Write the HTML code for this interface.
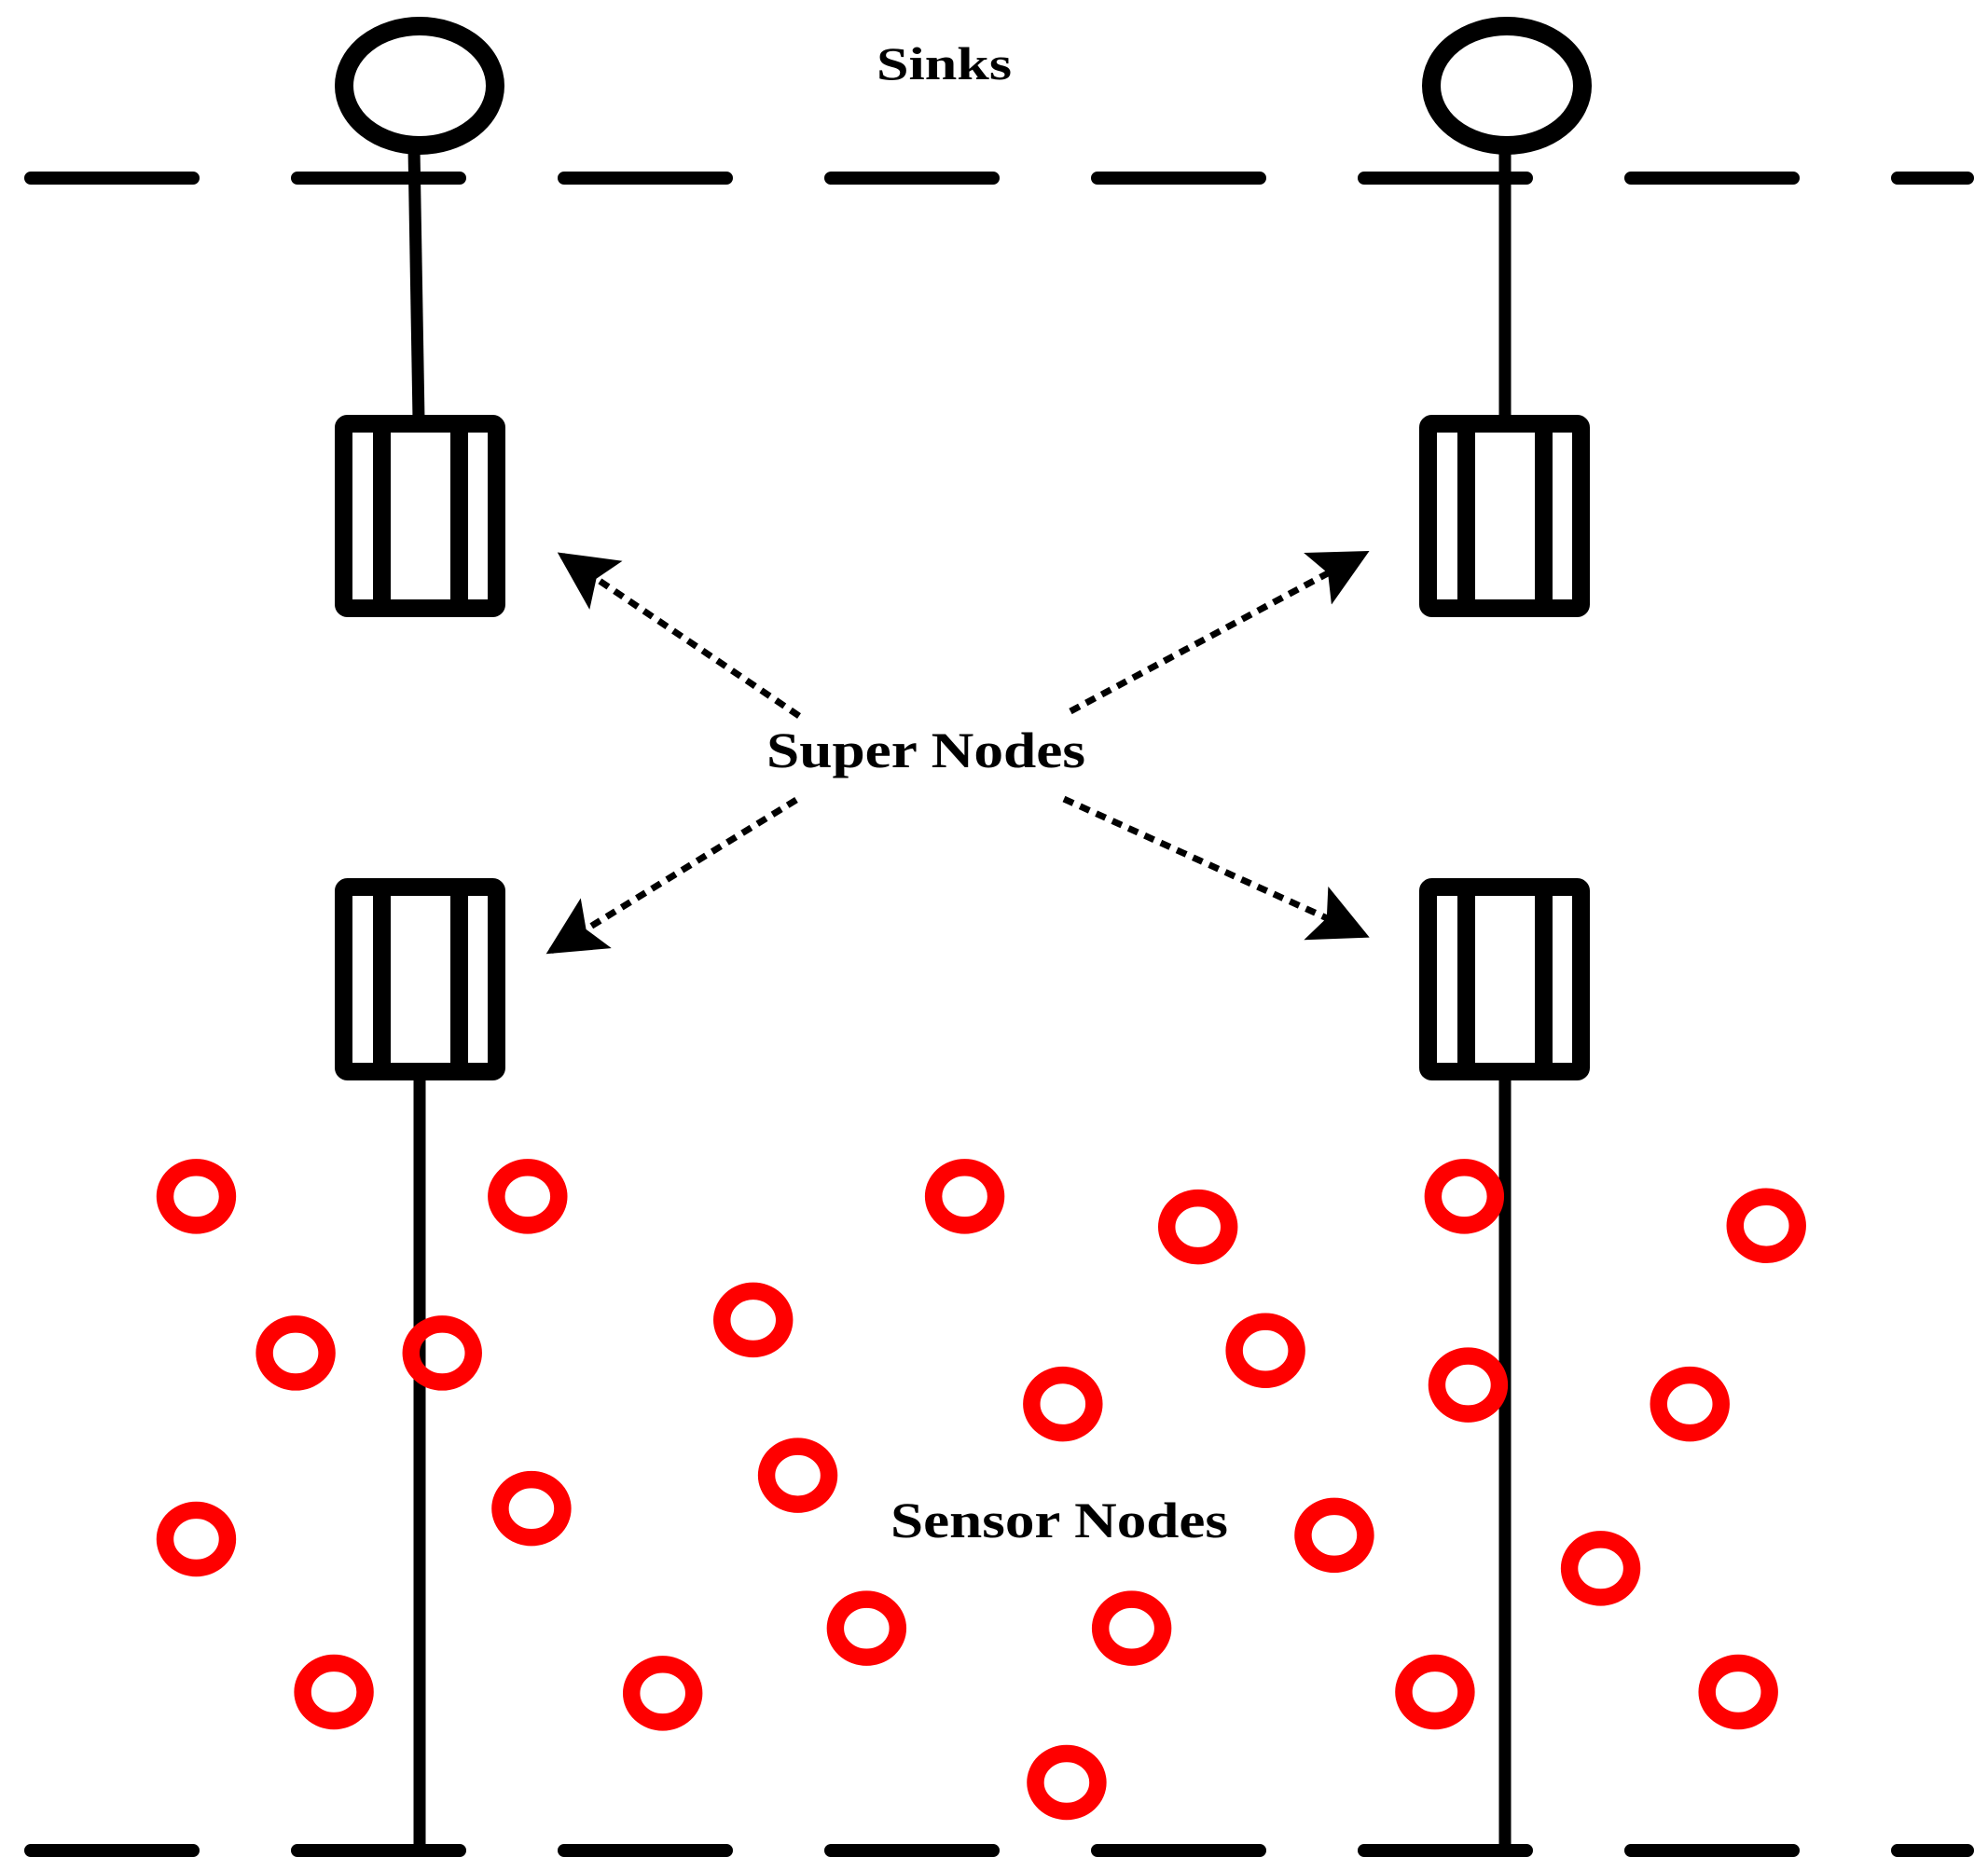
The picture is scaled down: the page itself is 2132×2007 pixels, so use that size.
<!DOCTYPE html>
<html><head><style>html,body{margin:0;padding:0;background:#fff}svg{display:block}</style></head>
<body>
<svg width="2132" height="2007" viewBox="0 0 2132 2007" xmlns="http://www.w3.org/2000/svg">
<defs>
<g id="box">
<rect x="9.5" y="9.5" width="164" height="198" rx="4" fill="#fff" stroke="#000" stroke-width="19"/>
<rect x="41" y="10" width="19" height="198" fill="#000"/>
<rect x="124" y="10" width="19" height="198" fill="#000"/>
</g>
<marker id="ah" viewBox="0 0 10 10" refX="9" refY="5" markerWidth="9" markerHeight="9" markerUnits="strokeWidth" orient="auto">
<path d="M0,0 L10,5 L0,10 L2,5 z" fill="#000"/>
</marker>
</defs>
<g stroke="#000" stroke-width="14" stroke-linecap="round" fill="none">
<path d="M33,191H207 M319,191H493 M605,191H779 M891,191H1065 M1177,191H1351 M1463,191H1637 M1749,191H1923 M2035,191H2110"/>
<path d="M33,1985H207 M319,1985H493 M605,1985H779 M891,1985H1065 M1177,1985H1351 M1463,1985H1637 M1749,1985H1923 M2035,1985H2110"/>
</g>
<g stroke="#000" stroke-width="13" fill="none">
<line x1="444" y1="160" x2="449" y2="450"/>
<line x1="1614" y1="160" x2="1614" y2="450"/>
<line x1="450" y1="1150" x2="450" y2="1985"/>
<line x1="1614" y1="1150" x2="1614" y2="1985"/>
</g>
<g stroke="#000" stroke-width="20" fill="#fff">
<ellipse cx="450" cy="92" rx="81" ry="64"/>
<ellipse cx="1616" cy="92" rx="81" ry="64"/>
</g>
<use href="#box" x="359" y="445"/>
<use href="#box" x="1522" y="445"/>
<use href="#box" x="359" y="942"/>
<use href="#box" x="1522" y="942"/>
<g stroke="#000" stroke-width="7" stroke-dasharray="11 8" fill="none" marker-end="url(#ah)">
<line x1="857" y1="768" x2="603" y2="596"/>
<line x1="1148" y1="763" x2="1463" y2="594"/>
<line x1="854" y1="858" x2="591" y2="1020"/>
<line x1="1141" y1="857" x2="1463" y2="1003"/>
</g>
<g font-family="Liberation Serif, serif" font-weight="bold" fill="#000">
<text x="940" y="85" font-size="50" textLength="145" lengthAdjust="spacingAndGlyphs">Sinks</text>
<text x="822" y="823" font-size="54" textLength="342" lengthAdjust="spacingAndGlyphs">Super Nodes</text>
<text x="955" y="1649" font-size="54" textLength="362" lengthAdjust="spacingAndGlyphs">Sensor Nodes</text>
</g>
<g stroke="#ff0000" stroke-width="13.5" fill="none" transform="scale(1.3667)">
<g transform="translate(-1,-3)">
<ellipse cx="155" cy="942" rx="24.5" ry="22.7"/>
<ellipse cx="415" cy="942" rx="24.5" ry="22.7"/>
<ellipse cx="758" cy="942" rx="24.5" ry="22.7"/>
<ellipse cx="941" cy="966" rx="24.5" ry="22.7"/>
<ellipse cx="1150" cy="942" rx="24.5" ry="22.7"/>
<ellipse cx="1387" cy="965" rx="24.5" ry="22.7"/>
<ellipse cx="233" cy="1065" rx="24.5" ry="22.7"/>
<ellipse cx="348" cy="1065" rx="24.5" ry="22.7"/>
<ellipse cx="592" cy="1039" rx="24.5" ry="22.7"/>
<ellipse cx="994" cy="1063" rx="24.5" ry="22.7"/>
<ellipse cx="835" cy="1105" rx="24.5" ry="22.7"/>
<ellipse cx="1153" cy="1090" rx="24.5" ry="22.7"/>
<ellipse cx="1327" cy="1105" rx="24.5" ry="22.7"/>
<ellipse cx="155" cy="1211" rx="24.5" ry="22.7"/>
<ellipse cx="418" cy="1187" rx="24.5" ry="22.7"/>
<ellipse cx="627" cy="1161" rx="24.5" ry="22.7"/>
<ellipse cx="1048" cy="1208" rx="24.5" ry="22.7"/>
<ellipse cx="1257" cy="1234" rx="24.5" ry="22.7"/>
<ellipse cx="263" cy="1331" rx="24.5" ry="22.7"/>
<ellipse cx="521" cy="1332" rx="24.5" ry="22.7"/>
<ellipse cx="681" cy="1281" rx="24.5" ry="22.7"/>
<ellipse cx="889" cy="1281" rx="24.5" ry="22.7"/>
<ellipse cx="1127" cy="1331" rx="24.5" ry="22.7"/>
<ellipse cx="1365" cy="1331" rx="24.5" ry="22.7"/>
<ellipse cx="838" cy="1402" rx="24.5" ry="22.7"/>
</g>
</g>
</svg>
</body></html>
